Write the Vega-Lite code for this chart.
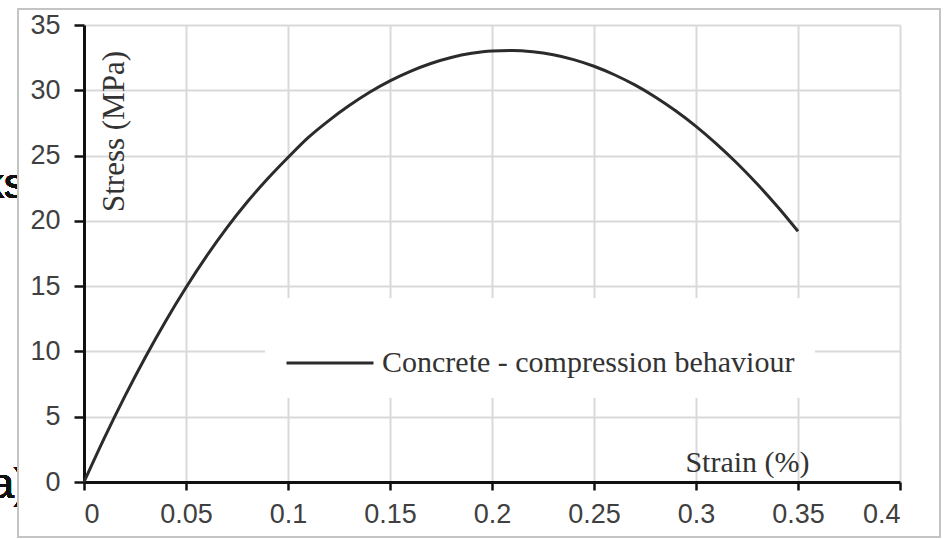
{
  "$schema": "https://vega.github.io/schema/vega-lite/v6.json",
  "autosize": {"type": "none"},
  "width": 816,
  "height": 457,
  "padding": {"left": 84, "top": 25, "right": 50, "bottom": 57},
  "background": "white",
  "config": {
    "view": {"stroke": null},
    "axis": {
      "grid": true,
      "gridColor": "#d9d9d9",
      "gridWidth": 2,
      "domainColor": "#111111",
      "domainWidth": 3,
      "tickColor": "#111111",
      "tickWidth": 2.5,
      "labelFont": "Liberation Sans",
      "labelFontSize": 27,
      "labelColor": "#404040",
      "titleFont": "Liberation Serif",
      "titleFontSize": 31,
      "titleFontWeight": "normal",
      "titleColor": "#333333"
    }
  },
  "data": {
    "values": [
      {"strain": 0, "stress": 0, "series": "Concrete - compression behaviour"},
      {"strain": 0.01, "stress": 3.38, "series": "Concrete - compression behaviour"},
      {"strain": 0.02, "stress": 6.56, "series": "Concrete - compression behaviour"},
      {"strain": 0.03, "stress": 9.54, "series": "Concrete - compression behaviour"},
      {"strain": 0.04, "stress": 12.32, "series": "Concrete - compression behaviour"},
      {"strain": 0.05, "stress": 14.9, "series": "Concrete - compression behaviour"},
      {"strain": 0.06, "stress": 17.28, "series": "Concrete - compression behaviour"},
      {"strain": 0.07, "stress": 19.46, "series": "Concrete - compression behaviour"},
      {"strain": 0.08, "stress": 21.44, "series": "Concrete - compression behaviour"},
      {"strain": 0.09, "stress": 23.22, "series": "Concrete - compression behaviour"},
      {"strain": 0.1, "stress": 24.85, "series": "Concrete - compression behaviour"},
      {"strain": 0.11, "stress": 26.39, "series": "Concrete - compression behaviour"},
      {"strain": 0.12, "stress": 27.68, "series": "Concrete - compression behaviour"},
      {"strain": 0.13, "stress": 28.83, "series": "Concrete - compression behaviour"},
      {"strain": 0.14, "stress": 29.85, "series": "Concrete - compression behaviour"},
      {"strain": 0.15, "stress": 30.72, "series": "Concrete - compression behaviour"},
      {"strain": 0.16, "stress": 31.45, "series": "Concrete - compression behaviour"},
      {"strain": 0.17, "stress": 32.05, "series": "Concrete - compression behaviour"},
      {"strain": 0.18, "stress": 32.51, "series": "Concrete - compression behaviour"},
      {"strain": 0.19, "stress": 32.83, "series": "Concrete - compression behaviour"},
      {"strain": 0.2, "stress": 33.01, "series": "Concrete - compression behaviour"},
      {"strain": 0.21, "stress": 33.05, "series": "Concrete - compression behaviour"},
      {"strain": 0.22, "stress": 32.95, "series": "Concrete - compression behaviour"},
      {"strain": 0.23, "stress": 32.72, "series": "Concrete - compression behaviour"},
      {"strain": 0.24, "stress": 32.35, "series": "Concrete - compression behaviour"},
      {"strain": 0.25, "stress": 31.84, "series": "Concrete - compression behaviour"},
      {"strain": 0.26, "stress": 31.19, "series": "Concrete - compression behaviour"},
      {"strain": 0.27, "stress": 30.41, "series": "Concrete - compression behaviour"},
      {"strain": 0.28, "stress": 29.49, "series": "Concrete - compression behaviour"},
      {"strain": 0.29, "stress": 28.43, "series": "Concrete - compression behaviour"},
      {"strain": 0.3, "stress": 27.24, "series": "Concrete - compression behaviour"},
      {"strain": 0.31, "stress": 25.9, "series": "Concrete - compression behaviour"},
      {"strain": 0.32, "stress": 24.43, "series": "Concrete - compression behaviour"},
      {"strain": 0.33, "stress": 22.82, "series": "Concrete - compression behaviour"},
      {"strain": 0.34, "stress": 21.08, "series": "Concrete - compression behaviour"},
      {"strain": 0.35, "stress": 19.2, "series": "Concrete - compression behaviour"}
    ]
  },
  "layer": [
    {
      "mark": {"type": "text", "align": "left", "baseline": "alphabetic", "font": "Liberation Sans", "fontSize": 42, "color": "#111111", "clip": false},
      "encoding": {
        "x": {"datum": -0.04951, "type": "quantitative"},
        "y": {"datum": 21.75, "type": "quantitative"},
        "text": {"value": "ks"}
      }
    },
    {
      "mark": {"type": "text", "align": "left", "baseline": "alphabetic", "font": "Liberation Sans", "fontSize": 42, "color": "#111111", "clip": false},
      "encoding": {
        "x": {"datum": -0.04583, "type": "quantitative"},
        "y": {"datum": -1.225, "type": "quantitative"},
        "text": {"value": "a)"}
      }
    },
    {
      "mark": {"type": "rect", "fill": "white", "stroke": null, "clip": false},
      "encoding": {
        "x": {"datum": -0.031863, "type": "quantitative"},
        "x2": {"datum": -0.027451},
        "y": {"datum": 36.226, "type": "quantitative"},
        "y2": {"datum": -4.21}
      }
    },
    {
      "mark": {"type": "rect", "fill": null, "stroke": "#c4c4c4", "strokeWidth": 2, "clip": false},
      "encoding": {
        "x": {"datum": -0.03235, "type": "quantitative"},
        "x2": {"datum": 0.41961},
        "y": {"datum": 36.226, "type": "quantitative"},
        "y2": {"datum": -4.21}
      }
    },
    {
      "mark": {"type": "line", "interpolate": "monotone", "strokeWidth": 3},
      "encoding": {
        "x": {
          "field": "strain",
          "type": "quantitative",
          "scale": {"domain": [0, 0.4], "nice": false, "zero": false},
          "axis": {
            "values": [0, 0.05, 0.1, 0.15, 0.2, 0.25, 0.3, 0.35, 0.4],
            "format": "~g",
            "tickSize": 8,
            "labelPadding": 11,
            "title": "Strain (%)",
            "titleFontSize": 30,
            "titleX": 663,
            "titleY": -20,
            "titleAlign": "center",
            "titleBaseline": "middle"
          }
        },
        "y": {
          "field": "stress",
          "type": "quantitative",
          "scale": {"domain": [0, 35], "nice": false, "zero": false},
          "axis": {
            "values": [0, 5, 10, 15, 20, 25, 30, 35],
            "tickSize": 10,
            "labelPadding": 14,
            "title": "Stress (MPa)",
            "titleAngle": -90,
            "titleX": 30,
            "titleY": 106,
            "titleAlign": "center",
            "titleBaseline": "middle"
          }
        },
        "color": {
          "field": "series",
          "type": "nominal",
          "scale": {"range": ["#2b2b2b"]},
          "legend": {
            "title": null,
            "orient": "none",
            "legendX": 181,
            "legendY": 273,
            "fillColor": "white",
            "padding": 20,
            "symbolType": "stroke",
            "symbolSize": 7569,
            "symbolStrokeWidth": 3,
            "labelOffset": 7,
            "labelFont": "Liberation Serif",
            "labelFontSize": 30,
            "labelColor": "#333333",
            "labelLimit": 0
          }
        }
      }
    }
  ]
}
